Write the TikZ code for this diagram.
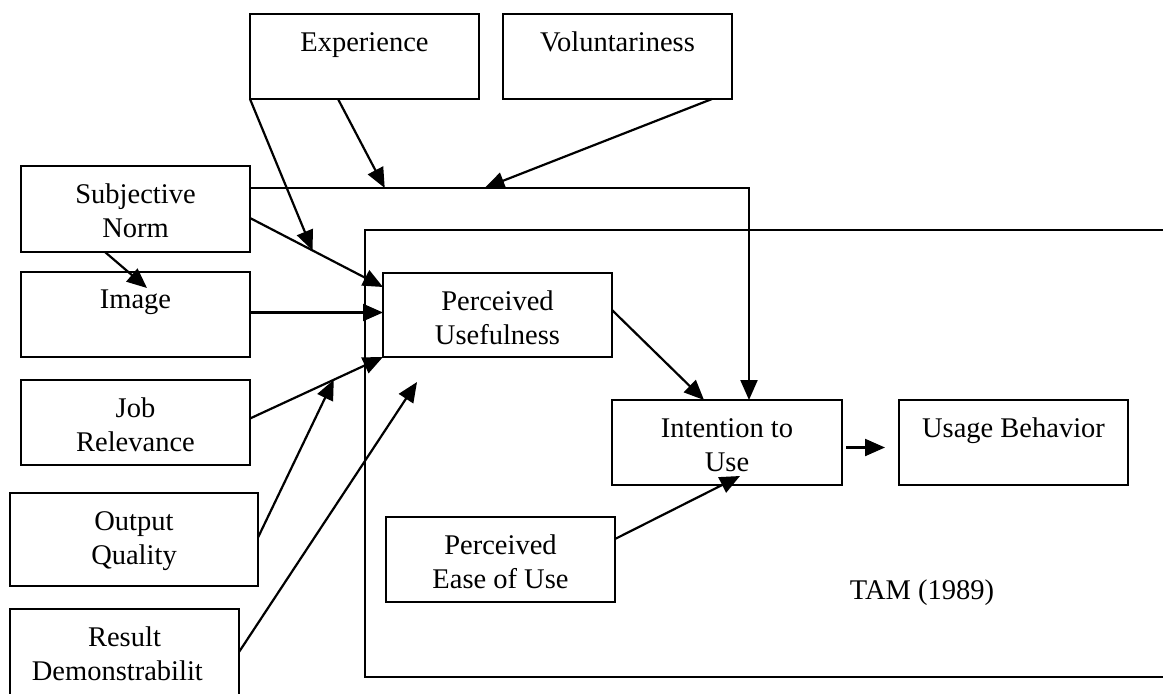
\documentclass[tikz,border=0pt]{standalone}
\usepackage{fontspec}
\setmainfont{Liberation Serif}
\usetikzlibrary{arrows.meta,calc}
\begin{document}
\begin{tikzpicture}[x=1pt,y=-1pt,
  box/.style={draw, line width=2.4pt, minimum width=229pt, minimum height=85pt,
              inner sep=0pt, outer sep=0pt, anchor=north west},
  lbl/.style={font=\fontsize{28.5}{34}\selectfont, align=center,
              inner sep=0pt, anchor=north},
  conn/.style={line width=2.2pt, -{Triangle[length=20pt,width=17pt]}},
  frame/.style={line width=2.4pt},
]
% page area
\clip (0,0) rectangle (1163,694);
\fill[white] (0,0) rectangle (1163,694);

% TAM (1989) frame, open on the right
\draw[frame] (1175,230) -| (365,677) -- (1175,677);

% boxes
\node[box] (exp) at (250,14) {};
\node[box] (vol) at (503,14) {};
\node[box, minimum height=86pt] (sn) at (21,166) {};
\node[box] (img) at (21,272) {};
\node[box] (job) at (21,380) {};
\node[box, minimum width=248pt, minimum height=93pt] (out) at (10,493) {};
\node[box, minimum height=120pt] (res) at (10,609) {};
\node[box, minimum height=84pt] (pu) at (383,273) {};
\node[box, minimum width=230pt] (int) at (612,400) {};
\node[box] (use) at (899,400) {};
\node[box] (peou) at (386,517) {};

% box texts
\node[lbl] (expT)  at ($(exp.north)+(0,18)$) {Experience};
\node[lbl] (volT)  at ($(vol.north)+(0,18)$) {Voluntariness};
\node[lbl] (snT)   at ($(sn.north)+(0,18)$) {Subjective\\Norm};
\node[lbl] (imgT)  at ($(img.north)+(0,18)$) {Image};
\node[lbl] (jobT)  at ($(job.north)+(0,18)$) {Job\\Relevance};
\node[lbl] (outT)  at ($(out.north)+(0,18)$) {Output\\Quality};
\node[lbl] (resT)  at ($(res.north)+(0,18)$) {Result\\Demonstrabilit\phantom{y}};
\node[lbl] (puT)   at ($(pu.north)+(0,18)$) {Perceived\\Usefulness};
\node[lbl] (intT)  at ($(int.north)+(0,18)$) {Intention to\\Use};
\node[lbl] (useT)  at ($(use.north)+(0,18)$) {Usage Behavior};
\node[lbl] (peouT) at ($(peou.north)+(0,18)$) {Perceived\\Ease of Use};
\node[lbl] (tam)   at (922,580) {TAM (1989)};

% subjective norm -> intention, moderated by experience and voluntariness
\coordinate (bend) at (749,188);
\coordinate (snOut) at (sn.east |- bend);
\draw[conn] (snOut) -- (bend) -- (bend |- int.north);
\coordinate (expMod) at ($(snOut)!0.27!(bend)$);
\coordinate (volMod) at ($(snOut)!0.47!(bend)$);
\draw[conn] ($(exp.south west)+(88,0)$) -- (expMod);
\draw[conn] ($(vol.south west)+(209,0)$) -- (volMod);

% subjective norm -> perceived usefulness, moderated by experience
\coordinate (snPU) at ($(sn.south east)+(0,-34)$);
\coordinate (puIn) at ($(pu.north west)+(0,14)$);
\draw[conn] (snPU) -- (puIn);
\draw[conn] (exp.south west) -- ($(snPU)!0.47!(puIn)$);

% subjective norm -> image
\draw[conn] ($(sn.south west)+(84,0)$) -- ($(img.north west)+(126,16)$);

% image -> perceived usefulness
\draw[conn] ($(img.east)+(0,-2)$) -- ($(pu.west |- img.east)+(0,-2)$);

% job relevance -> perceived usefulness, moderated by output quality
\coordinate (jobOut) at ($(job.east)+(0,-4)$);
\draw[conn] (jobOut) -- (pu.south west);
\draw[conn] ($(out.east)+(0,-2)$) -- ($(jobOut)!0.63!(pu.south west)$);

% result demonstrability -> perceived usefulness
\coordinate (resTip) at (417,382);
\draw[conn] ($(res.north east)+(0,43)$) -- (resTip);

% TAM core
\draw[conn] ($(pu.east)+(0,-5)$) -- ($(int.north west)+(92,0)$);
\draw[conn] ($(peou.north east)+(0,22)$) -- ($(int.south west)+(128,-9)$);
\draw[conn] ($(int.east)+(4,5)$) -- ($(use.west)+(-14,5)$);
\end{tikzpicture}
\end{document}
